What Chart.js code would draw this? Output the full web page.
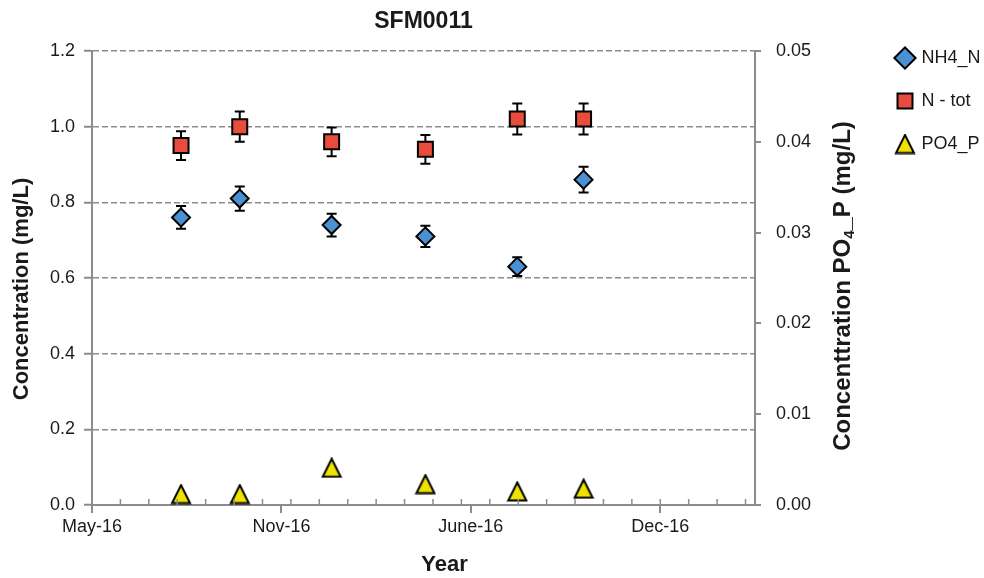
<!DOCTYPE html>
<html>
<head>
<meta charset="utf-8">
<script src="https://cdn.jsdelivr.net/npm/chart.js@4.4.1/dist/chart.umd.min.js"></script>
<style>
  html, body { margin: 0; padding: 0; background: #fff; }
  #wrap { width: 984px; height: 578px; }
</style>
</head>
<body>
<div id="wrap"><canvas id="chart" width="984" height="578"></canvas></div>
<script>
// sampling dates, as days after the start of the x axis (May-16)
const sampleDay = [94, 156, 253, 352, 449, 519];
const nh4N = [0.76, 0.81, 0.74, 0.71, 0.63, 0.86];
const nh4NErr = [0.030, 0.032, 0.030, 0.028, 0.025, 0.034];
const nTot = [0.95, 1.00, 0.96, 0.94, 1.02, 1.02];
const nTotErr = [0.038, 0.040, 0.038, 0.038, 0.041, 0.041];
const po4P = [0.0012, 0.0012, 0.0041, 0.0023, 0.0015, 0.0018];
const xTickLabels = ['May-16', 'Nov-16', 'June-16', 'Dec-16'];

const FONT = "'Liberation Sans', Arial, sans-serif";
const GREY = '#8c8c8c';
const INK = '#1a1a1a';

const toPoints = (ys) => ys.map((y, i) => ({x: sampleDay[i], y: y}));

// Excel style triangle marker (centred on its bounding box)
const triangle = document.createElement('canvas');
triangle.width = 22;
triangle.height = 21;
(function () {
  const c = triangle.getContext('2d');
  c.beginPath();
  c.moveTo(11, 1.5);
  c.lineTo(20, 19.5);
  c.lineTo(2, 19.5);
  c.closePath();
  c.fillStyle = '#eee200';
  c.fill();
  c.lineWidth = 2;
  c.lineJoin = 'miter';
  c.strokeStyle = '#000';
  c.stroke();
})();

// vertical error bars with caps, drawn under the markers
const errorBars = {
  id: 'errorBars',
  beforeDatasetsDraw(chart) {
    const ctx = chart.ctx;
    const xs = chart.scales.x;
    chart.data.datasets.forEach((ds) => {
      if (!ds.errors) return;
      const ys = chart.scales[ds.yAxisID];
      ctx.save();
      ctx.strokeStyle = '#000';
      ctx.lineWidth = 2;
      ds.errors.forEach((e, i) => {
        const v = ds.data[i].y;
        const px = xs.getPixelForValue(ds.data[i].x);
        const top = ys.getPixelForValue(v + e);
        const bot = ys.getPixelForValue(v - e);
        ctx.beginPath();
        ctx.moveTo(px, top); ctx.lineTo(px, bot);
        ctx.moveTo(px - 5, top); ctx.lineTo(px + 5, top);
        ctx.moveTo(px - 5, bot); ctx.lineTo(px + 5, bot);
        ctx.stroke();
      });
      ctx.restore();
    });
  }
};

// draw a run of [text, size, shift] pieces rotated to read bottom-to-top
function drawVertical(ctx, parts, cx, cy) {
  let total = 0;
  parts.forEach((p) => {
    ctx.font = 'bold ' + p[1] + 'px ' + FONT;
    total += ctx.measureText(p[0]).width;
  });
  ctx.save();
  ctx.translate(cx, cy);
  ctx.rotate(-Math.PI / 2);
  ctx.textAlign = 'left';
  ctx.textBaseline = 'middle';
  let x = -total / 2;
  parts.forEach((p) => {
    ctx.font = 'bold ' + p[1] + 'px ' + FONT;
    ctx.fillText(p[0], x, p[2]);
    x += ctx.measureText(p[0]).width;
  });
  ctx.restore();
}

// minor ticks on the date axis (every 30 days) and the axis titles
const axisExtras = {
  id: 'axisExtras',
  afterDraw(chart) {
    const ctx = chart.ctx;
    const xs = chart.scales.x;
    const a = chart.chartArea;
    ctx.save();
    ctx.strokeStyle = GREY;
    ctx.lineWidth = 1.5;
    ctx.beginPath();
    for (let d = 30; d < xs.max; d += 30) {
      const px = xs.getPixelForValue(d);
      ctx.moveTo(px, a.bottom - 6);
      ctx.lineTo(px, a.bottom);
    }
    ctx.stroke();
    ctx.fillStyle = INK;
    ctx.font = 'bold 22px ' + FONT;
    ctx.textAlign = 'center';
    ctx.textBaseline = 'middle';
    ctx.fillText('Year', (a.left + a.right) / 2 + 21, 565);
    drawVertical(ctx, [['Concentration (mg/L)', 22, 0]], 22, a.top + a.height / 2 + 11);
    drawVertical(ctx, [['Concenttration PO', 24, 0], ['4', 15, 7], ['_P (mg/L)', 24, 0]], 843, a.top + a.height / 2 + 8);
    ctx.restore();
  }
};

new Chart(document.getElementById('chart'), {
  type: 'scatter',
  data: {
    datasets: [{
      label: 'NH4_N',
      data: toPoints(nh4N),
      errors: nh4NErr,
      yAxisID: 'y',
      pointStyle: 'rectRot',
      pointRadius: 9,
      pointHoverRadius: 9,
      backgroundColor: '#4a90d2',
      borderColor: '#000',
      borderWidth: 2
    }, {
      label: 'N - tot',
      data: toPoints(nTot),
      errors: nTotErr,
      yAxisID: 'y',
      pointStyle: 'rect',
      pointRadius: 10.6,
      pointHoverRadius: 10.6,
      backgroundColor: '#e84c3d',
      borderColor: '#000',
      borderWidth: 2
    }, {
      label: 'PO4_P',
      data: toPoints(po4P),
      yAxisID: 'y2',
      pointStyle: triangle,
      pointRadius: 10,
      pointHoverRadius: 10,
      backgroundColor: '#eee200',
      borderColor: '#000',
      borderWidth: 2
    }]
  },
  options: {
    responsive: false,
    animation: false,
    devicePixelRatio: 1,
    clip: false,
    layout: {padding: 0},
    plugins: {
      title: {
        display: true,
        text: 'SFM0011',
        fullSize: false,
        color: INK,
        font: {family: FONT, size: 23, weight: 'bold'},
        padding: {top: 8, bottom: 15.4}
      },
      legend: {
        position: 'right',
        align: 'start',
        maxWidth: 111.5,
        title: {display: true, text: '', font: {size: 10}, padding: {top: 12, bottom: 0}},
        labels: {
          usePointStyle: true,
          boxWidth: 15,
          boxHeight: 15,
          padding: 25,
          color: INK,
          font: {family: FONT, size: 18}
        }
      },
      tooltip: {enabled: false}
    },
    scales: {
      x: {
        type: 'linear',
        position: 'bottom',
        min: 0,
        max: 700,
        afterFit: (s) => { s.height = 73; },
        grid: {display: true, drawOnChartArea: false, drawTicks: true, tickLength: 8, color: GREY, lineWidth: 2},
        border: {display: true, color: GREY, width: 2},
        ticks: {
          stepSize: 200,
          includeBounds: false,
          autoSkip: false,
          maxRotation: 0,
          padding: 3,
          color: INK,
          font: {family: FONT, size: 18},
          callback: (v) => xTickLabels[Math.round(v / 200)]
        }
      },
      y: {
        type: 'linear',
        position: 'left',
        min: 0,
        max: 1.2,
        afterFit: (s) => { s.width = 92; },
        grid: {color: GREY, lineWidth: 1.5, tickLength: 8, tickColor: GREY, tickWidth: 2},
        border: {color: GREY, width: 2, dash: [6, 3]},
        ticks: {
          stepSize: 0.2,
          padding: 9,
          color: INK,
          font: {family: FONT, size: 18},
          callback: (v) => v.toFixed(1)
        }
      },
      y2: {
        type: 'linear',
        position: 'right',
        min: 0,
        max: 0.05,
        afterFit: (s) => { s.width = 117.5; },
        grid: {drawOnChartArea: false, tickLength: 6, color: GREY, lineWidth: 2},
        border: {color: GREY, width: 2},
        ticks: {
          stepSize: 0.01,
          padding: 15,
          color: INK,
          font: {family: FONT, size: 18},
          callback: (v) => v.toFixed(2)
        }
      }
    }
  },
  plugins: [errorBars, axisExtras]
});
</script>
</body>
</html>
